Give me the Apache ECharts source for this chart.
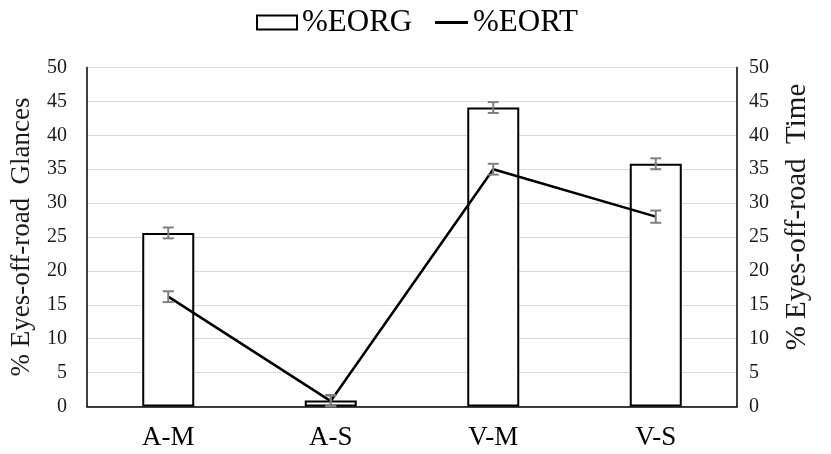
<!DOCTYPE html>
<html>
<head>
<meta charset="utf-8">
<script src="https://cdn.jsdelivr.net/npm/echarts@6/dist/echarts.min.js"></script>
<style>
html,body{margin:0;padding:0;background:#fff;}
#chart{width:831px;height:454px;}
</style>
</head>
<body>
<div id="chart"></div>
<script>
const categories = ['A-M', 'A-S', 'V-M', 'V-S'];
const eorg = [25.6, 0.9, 44.1, 35.8];
const eorgErr = [0.8, 0.8, 0.8, 0.8];
const eort = [16.2, 0.8, 35.0, 28.0];
const eortErr = [0.8, 0.8, 0.8, 0.9];
const yTicksMin = 0, yTicksMax = 50, yTickStep = 5;

const FONT = '"Liberation Serif", "Times New Roman", serif';
const chart = echarts.init(document.getElementById('chart'), null, {renderer: 'canvas'});

function errRender(vals, errs) {
  return function (params, api) {
    const i = api.value(0);
    const top = api.coord([i, vals[i] + errs[i]]);
    const bot = api.coord([i, vals[i] - errs[i]]);
    const hw = 5.5;
    const style = {stroke: '#7f7f7f', lineWidth: 2, fill: null};
    return {
      type: 'group',
      children: [
        {type: 'line', shape: {x1: top[0], y1: top[1], x2: bot[0], y2: bot[1]}, style: style},
        {type: 'line', shape: {x1: top[0] - hw, y1: top[1], x2: top[0] + hw, y2: top[1]}, style: style},
        {type: 'line', shape: {x1: bot[0] - hw, y1: bot[1], x2: bot[0] + hw, y2: bot[1]}, style: style}
      ]
    };
  };
}

const yAxisCommon = {
  type: 'value', min: yTicksMin, max: yTicksMax, interval: yTickStep,
  axisLine: {show: true, lineStyle: {color: '#000', width: 1.5}},
  axisTick: {show: false},
  nameLocation: 'middle', nameRotate: 90,
  nameTextStyle: {fontFamily: FONT, fontSize: 27, color: '#1a1a1a'},
  axisLabel: {fontFamily: FONT, fontSize: 20, color: '#1a1a1a'}
};

const legendText = {fontFamily: FONT, fontSize: 31, color: '#000'};

const option = {
  animation: false,
  backgroundColor: '#fff',
  textStyle: {fontFamily: FONT},
  legend: [
    {
      top: 2, left: 251, itemWidth: 40, itemHeight: 14,
      textStyle: legendText,
      data: [{name: '%EORG', icon: 'rect'}]
    },
    {
      top: 2, left: 430, itemWidth: 33, itemHeight: 3,
      textStyle: legendText,
      data: [{name: '%EORT', icon: 'rect', itemStyle: {color: '#000', borderWidth: 0}}]
    }
  ],
  grid: {left: 86, right: 94, top: 67.5, bottom: 47.5},
  xAxis: {
    type: 'category', data: categories, boundaryGap: true,
    axisLine: {show: true, lineStyle: {color: '#000', width: 1.5}},
    axisTick: {show: false},
    axisLabel: {fontFamily: FONT, fontSize: 27, color: '#000', margin: 18}
  },
  yAxis: [
    Object.assign({}, yAxisCommon, {
      position: 'left', name: '% Eyes-off-road  Glances', nameGap: 52,
      axisLabel: Object.assign({}, yAxisCommon.axisLabel, {margin: 20}),
      splitLine: {show: true, lineStyle: {color: '#d9d9d9', width: 1}}
    }),
    Object.assign({}, yAxisCommon, {
      position: 'right', name: '% Eyes-off-road  Time', nameGap: 46,
      nameTextStyle: {fontFamily: FONT, fontSize: 29, color: '#1a1a1a', padding: [0, 0, 0, 40]},
      axisLabel: Object.assign({}, yAxisCommon.axisLabel, {margin: 12}),
      splitLine: {show: false}
    })
  ],
  series: [
    {
      name: '%EORG', type: 'bar', yAxisIndex: 0, data: eorg, barWidth: 52,
      itemStyle: {color: '#fff', borderColor: '#000', borderWidth: 2},
      z: 2
    },
    {
      name: 'eorgErr', type: 'custom', yAxisIndex: 0,
      data: categories.map((c, i) => [i]),
      renderItem: errRender(eorg, eorgErr), z: 4
    },
    {
      name: '%EORT', type: 'line', yAxisIndex: 1, data: eort,
      symbol: 'none', lineStyle: {color: '#000', width: 2.5},
      itemStyle: {color: '#000'}, z: 3
    },
    {
      name: 'eortErr', type: 'custom', yAxisIndex: 1,
      data: categories.map((c, i) => [i]),
      renderItem: errRender(eort, eortErr), z: 5
    }
  ]
};
chart.setOption(option);
</script>
</body>
</html>
